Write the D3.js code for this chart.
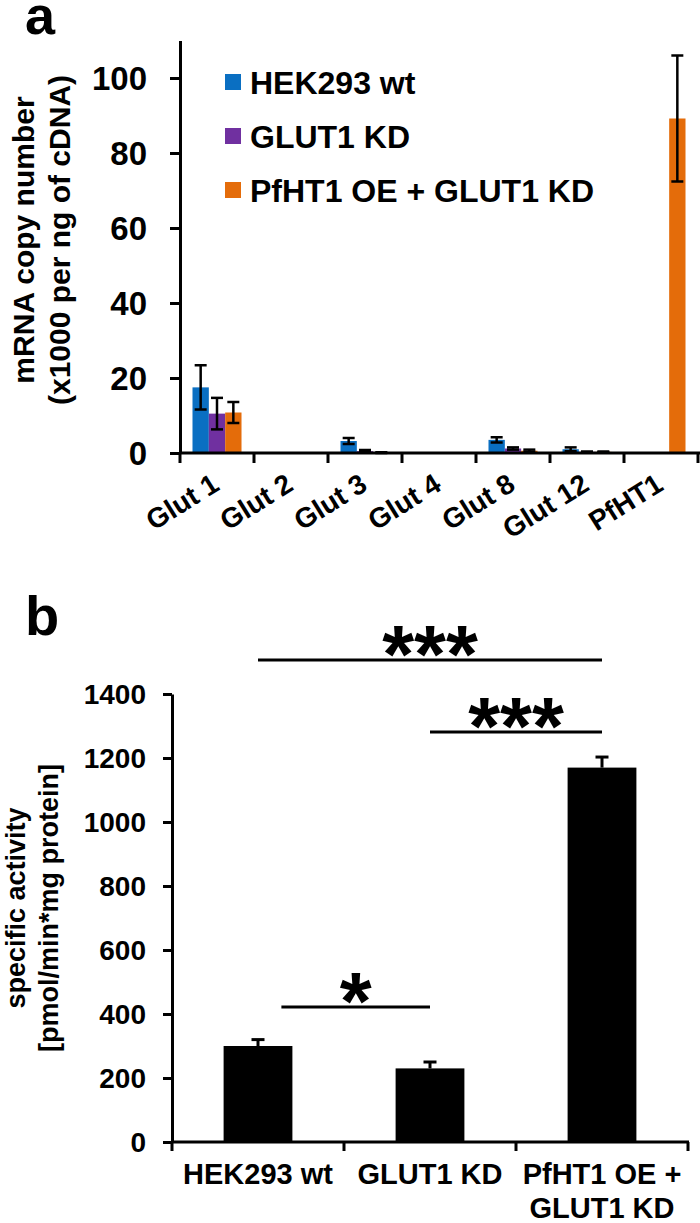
<!DOCTYPE html>
<html>
<head>
<meta charset="utf-8">
<script src="https://cdn.jsdelivr.net/npm/d3@7/dist/d3.min.js"></script>
<style>
  html, body { margin: 0; padding: 0; background: #fff; }
  svg { display: block; }
  text { font-family: "Liberation Sans", Arial, Helvetica, sans-serif; font-weight: bold; fill: #000; }
</style>
</head>
<body>
<div id="chart"></div>
<script>
// ---------- Panel a data ----------
const categoriesA = ["Glut 1", "Glut 2", "Glut 3", "Glut 4", "Glut 8", "Glut 12", "PfHT1"];
const seriesA = ["HEK293 wt", "GLUT1 KD", "PfHT1 OE + GLUT1 KD"];
const hekValues  = [17.5, 0, 3.2, 0, 3.5, 1.0, 0];
const hekErrors  = [5.9,  0, 0.8, 0, 0.7, 0.5, 0];
const kdValues   = [10.5, 0, 0.5, 0, 1.2, 0.3, 0];
const kdErrors   = [4.2,  0, 0.3, 0, 0.3, 0.1, 0];
const oeValues   = [10.8, 0, 0.1, 0, 0.6, 0.3, 89.2];
const oeErrors   = [2.8,  0, 0.1, 0, 0.3, 0.1, 16.8];
const colorsA    = ["#0A6FC2", "#7030A0", "#E46C0A"];
const yTicksA    = [0, 20, 40, 60, 80, 100];
const yTitleA    = ["mRNA copy number", "(x1000 per ng of cDNA)"];

// ---------- Panel b data ----------
const categoriesB = ["HEK293 wt", "GLUT1 KD", "PfHT1 OE + GLUT1 KD"];
const labelLinesB = [["HEK293 wt"], ["GLUT1 KD"], ["PfHT1 OE +", "GLUT1 KD"]];
const activityValues = [300, 230, 1170];
const activityErrors = [20, 20, 33];
const yTicksB = [0, 200, 400, 600, 800, 1000, 1200, 1400];
const yTitleB = ["specific activity", "[pmol/min*mg protein]"];
const sigFrom  = [0, 1, 0];
const sigTo    = [2, 2, 1];
const sigLevel = [1506, 1281, 422];
const sigLabel = ["***", "***", "*"];

const W = 700, H = 1223;
const svg = d3.select("#chart").append("svg").attr("width", W).attr("height", H);
svg.append("rect").attr("width", W).attr("height", H).attr("fill", "#fff");

// =================== Panel a ===================
const gA = svg.append("g");
gA.append("text").attr("x", 25).attr("y", 34).attr("font-size", 54).text("a");

const xA = d3.scaleBand().domain(categoriesA).range([180, 698]).padding(0);
const xInner = d3.scaleBand().domain(seriesA).range([0, xA.bandwidth()]).paddingInner(0).paddingOuter(0.765);
const yA = d3.scaleLinear().domain([0, 110]).range([453, 40.5]);

const valsA = [hekValues, kdValues, oeValues];
const errsA = [hekErrors, kdErrors, oeErrors];
const barData = [];
seriesA.forEach((s, si) => {
  categoriesA.forEach((c, ci) => {
    barData.push({ s, si, c, v: valsA[si][ci], e: errsA[si][ci] });
  });
});

gA.append("g").selectAll("rect").data(barData.filter(d => d.v > 0)).join("rect")
  .attr("x", d => xA(d.c) + xInner(d.s))
  .attr("width", xInner.bandwidth())
  .attr("y", d => yA(d.v))
  .attr("height", d => yA(0) - yA(d.v))
  .attr("fill", d => colorsA[d.si]);

const errG = gA.append("g").attr("stroke", "#000").attr("stroke-width", 2.5);
barData.filter(d => d.e > 0).forEach(d => {
  const cx = xA(d.c) + xInner(d.s) + xInner.bandwidth() / 2;
  const capW = 6;
  errG.append("line").attr("x1", cx).attr("x2", cx).attr("y1", yA(d.v + d.e)).attr("y2", yA(Math.max(0, d.v - d.e)));
  errG.append("line").attr("x1", cx - capW).attr("x2", cx + capW).attr("y1", yA(d.v + d.e)).attr("y2", yA(d.v + d.e));
  errG.append("line").attr("x1", cx - capW).attr("x2", cx + capW).attr("y1", yA(Math.max(0, d.v - d.e))).attr("y2", yA(Math.max(0, d.v - d.e)));
});

// y axis a
const yAxisA = gA.append("g").attr("transform", "translate(180,0)")
  .call(d3.axisLeft(yA).tickValues(yTicksA).tickFormat(d3.format("d")).tickSize(10).tickSizeOuter(0).tickPadding(23));
yAxisA.select(".domain").attr("stroke-width", 3);
yAxisA.selectAll(".tick line").attr("stroke-width", 3);
yAxisA.selectAll(".tick text").attr("font-size", 33).attr("dy", "0.35em");
yAxisA.attr("font-family", null).attr("font-size", null);

// x axis a
const xAxisA = gA.append("g").attr("stroke", "#000").attr("stroke-width", 3);
xAxisA.append("line").attr("x1", xA.range()[0]).attr("x2", xA.range()[1] + 2).attr("y1", yA(0)).attr("y2", yA(0));
const boundsA = categoriesA.map(c => xA(c)).concat([xA.range()[1]]);
boundsA.forEach(bx => {
  xAxisA.append("line").attr("x1", bx).attr("x2", bx).attr("y1", yA(0)).attr("y2", yA(0) + 10);
});
gA.append("g").selectAll("text").data(categoriesA).join("text")
  .attr("text-anchor", "end")
  .attr("font-size", 28)
  .attr("transform", c => `translate(${xA(c) + xA.bandwidth() / 2 + 4},${yA(0) + 36}) rotate(-32)`)
  .text(c => c);

// y title a
yTitleA.forEach((t, i) => {
  gA.append("text").attr("text-anchor", "middle").attr("font-size", 30)
    .attr("transform", `translate(${34 + i * 36},240) rotate(-90)`).text(t);
});

// legend a
seriesA.forEach((s, i) => {
  const cy = 82 + i * 54;
  gA.append("rect").attr("x", 225).attr("y", cy - 8).attr("width", 16).attr("height", 16).attr("fill", colorsA[i]);
  gA.append("text").attr("x", 250).attr("y", cy + 11.5).attr("font-size", 32).text(s);
});

// =================== Panel b ===================
const gB = svg.append("g");
gB.append("text").attr("x", 25).attr("y", 635).attr("font-size", 56).text("b");

const xB = d3.scaleBand().domain(categoriesB).range([172, 688]).paddingInner(0.6).paddingOuter(0.3);
const yB = d3.scaleLinear().domain([0, 1400]).range([1142, 694]);

gB.append("g").selectAll("rect").data(categoriesB).join("rect")
  .attr("x", c => xB(c))
  .attr("width", xB.bandwidth())
  .attr("y", (c, i) => yB(activityValues[i]))
  .attr("height", (c, i) => yB(0) - yB(activityValues[i]))
  .attr("fill", "#000");

const errB = gB.append("g").attr("stroke", "#000").attr("stroke-width", 3);
categoriesB.forEach((c, i) => {
  const cx = xB(c) + xB.bandwidth() / 2;
  const top = yB(activityValues[i] + activityErrors[i]);
  errB.append("line").attr("x1", cx).attr("x2", cx).attr("y1", top).attr("y2", yB(activityValues[i]));
  errB.append("line").attr("x1", cx - 6.5).attr("x2", cx + 6.5).attr("y1", top).attr("y2", top);
});

const yAxisB = gB.append("g").attr("transform", "translate(172,0)")
  .call(d3.axisLeft(yB).tickValues(yTicksB).tickFormat(d3.format("d")).tickSize(9).tickSizeOuter(0).tickPadding(17));
yAxisB.select(".domain").attr("stroke-width", 3);
yAxisB.selectAll(".tick line").attr("stroke-width", 3);
yAxisB.selectAll(".tick text").attr("font-size", 28).attr("dy", "0.35em");
yAxisB.attr("font-family", null).attr("font-size", null);

const xAxisB = gB.append("g").attr("stroke", "#000").attr("stroke-width", 3);
xAxisB.append("line").attr("x1", xB.range()[0]).attr("x2", xB.range()[1] + 1).attr("y1", yB(0)).attr("y2", yB(0));
d3.range(categoriesB.length + 1).forEach(i => {
  const bx = xB.range()[0] + i * xB.step();
  xAxisB.append("line").attr("x1", bx).attr("x2", bx).attr("y1", yB(0)).attr("y2", yB(0) + 9);
});

labelLinesB.forEach((lines, i) => {
  const cx = xB(categoriesB[i]) + xB.bandwidth() / 2;
  lines.forEach((t, j) => {
    gB.append("text").attr("x", cx).attr("y", yB(0) + 42 + j * 34)
      .attr("text-anchor", "middle").attr("font-size", 29).text(t);
  });
});

yTitleB.forEach((t, i) => {
  gB.append("text").attr("text-anchor", "middle").attr("font-size", 27)
    .attr("transform", `translate(${25 + i * 33},908) rotate(-90)`).text(t);
});

// significance brackets
sigFrom.forEach((a, k) => {
  const b = sigTo[k];
  const startShift = (b - a === 1 && a === 0) ? xB.bandwidth() * 0.34 : 0;
  const x1 = xB(categoriesB[a]) + xB.bandwidth() / 2 + startShift;
  const x2 = xB(categoriesB[b]) + xB.bandwidth() / 2;
  const ly = yB(sigLevel[k]);
  gB.append("line").attr("x1", x1).attr("x2", x2).attr("y1", ly).attr("y2", ly)
    .attr("stroke", "#000").attr("stroke-width", 3);
  gB.append("text").attr("x", (x1 + x2) / 2).attr("y", ly + 22)
    .attr("text-anchor", "middle").attr("font-size", 82).text(sigLabel[k]);
});
</script>
</body>
</html>
